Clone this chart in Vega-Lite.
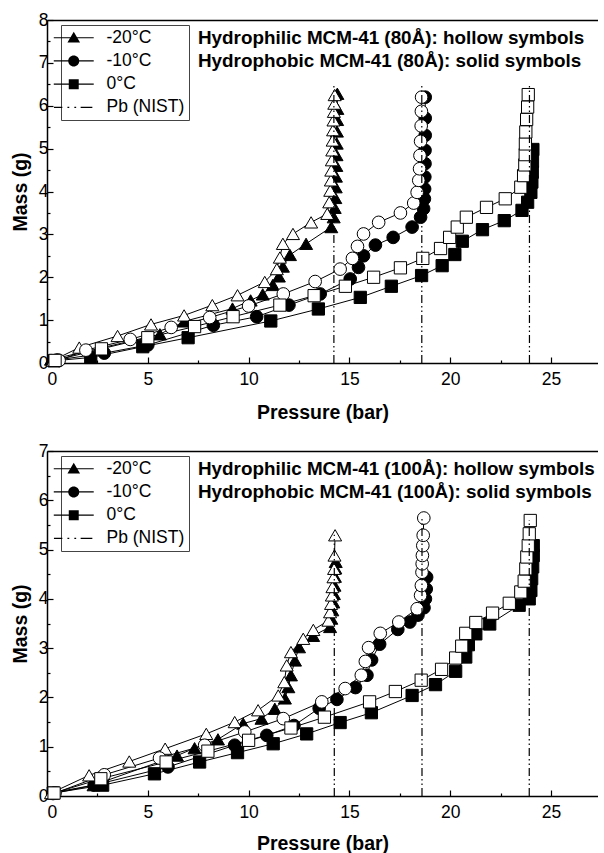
{
  "$schema": "https://vega.github.io/schema/vega-lite/v6.json",
  "padding": {"left": 10, "top": 11, "right": 0, "bottom": 0},
  "spacing": 20,
  "config": {
    "font": "Liberation Sans",
    "view": {"stroke": null},
    "axis": {
      "domainColor": "black", "domainWidth": 1.5, "tickColor": "black", "tickWidth": 1.2,
      "labelFont": "Liberation Sans", "labelFontSize": 17.5, "labelColor": "black",
      "titleFont": "Liberation Sans", "titleFontSize": 19.5, "titleFontWeight": "bold", "titleColor": "black",
      "grid": false
    },
    "title": {"font": "Liberation Sans", "fontSize": 18.85, "fontWeight": "bold", "color": "black", "lineHeight": 23}
  },
  "datasets": {
    "d80": [
      {"T":"-20°C","k":"F","p":0.2,"m":0.08},{"T":"-20°C","k":"F","p":5.6,"m":0.67},{"T":"-20°C","k":"F","p":6.8,"m":0.97},{"T":"-20°C","k":"F","p":9.2,"m":1.27},{"T":"-20°C","k":"F","p":10.1,"m":1.46},{"T":"-20°C","k":"F","p":10.7,"m":1.6},{"T":"-20°C","k":"F","p":11.2,"m":1.82},{"T":"-20°C","k":"F","p":11.5,"m":2.02},{"T":"-20°C","k":"F","p":11.7,"m":2.25},{"T":"-20°C","k":"F","p":12.05,"m":2.52},{"T":"-20°C","k":"F","p":12.85,"m":2.78},{"T":"-20°C","k":"F","p":14.1,"m":3.17},{"T":"-20°C","k":"F","p":14.22,"m":3.4},{"T":"-20°C","k":"F","p":14.27,"m":3.62},{"T":"-20°C","k":"F","p":14.3,"m":3.85},{"T":"-20°C","k":"F","p":14.32,"m":4.1},{"T":"-20°C","k":"F","p":14.33,"m":4.35},{"T":"-20°C","k":"F","p":14.35,"m":4.6},{"T":"-20°C","k":"F","p":14.36,"m":4.85},{"T":"-20°C","k":"F","p":14.37,"m":5.12},{"T":"-20°C","k":"F","p":14.38,"m":5.4},{"T":"-20°C","k":"F","p":14.39,"m":5.67},{"T":"-20°C","k":"F","p":14.4,"m":5.93},{"T":"-20°C","k":"F","p":14.4,"m":6.28},
      {"T":"-10°C","k":"F","p":0.5,"m":0.07},{"T":"-10°C","k":"F","p":2.84,"m":0.23},{"T":"-10°C","k":"F","p":5.0,"m":0.42},{"T":"-10°C","k":"F","p":8.25,"m":0.88},{"T":"-10°C","k":"F","p":10.4,"m":1.08},{"T":"-10°C","k":"F","p":12.0,"m":1.35},{"T":"-10°C","k":"F","p":13.55,"m":1.61},{"T":"-10°C","k":"F","p":15.04,"m":1.96},{"T":"-10°C","k":"F","p":15.45,"m":2.23},{"T":"-10°C","k":"F","p":15.7,"m":2.5},{"T":"-10°C","k":"F","p":16.29,"m":2.75},{"T":"-10°C","k":"F","p":17.17,"m":2.93},{"T":"-10°C","k":"F","p":18.11,"m":3.17},{"T":"-10°C","k":"F","p":18.53,"m":3.4},{"T":"-10°C","k":"F","p":18.68,"m":3.6},{"T":"-10°C","k":"F","p":18.72,"m":3.83},{"T":"-10°C","k":"F","p":18.73,"m":4.06},{"T":"-10°C","k":"F","p":18.74,"m":4.34},{"T":"-10°C","k":"F","p":18.75,"m":4.65},{"T":"-10°C","k":"F","p":18.75,"m":4.96},{"T":"-10°C","k":"F","p":18.76,"m":5.31},{"T":"-10°C","k":"F","p":18.76,"m":5.71},{"T":"-10°C","k":"F","p":18.76,"m":6.2},
      {"T":"0°C","k":"F","p":0.35,"m":0.05},{"T":"0°C","k":"F","p":2.17,"m":0.13},{"T":"0°C","k":"F","p":4.75,"m":0.38},{"T":"0°C","k":"F","p":7.0,"m":0.59},{"T":"0°C","k":"F","p":11.1,"m":0.98},{"T":"0°C","k":"F","p":13.46,"m":1.26},{"T":"0°C","k":"F","p":15.54,"m":1.53},{"T":"0°C","k":"F","p":17.08,"m":1.79},{"T":"0°C","k":"F","p":18.58,"m":2.04},{"T":"0°C","k":"F","p":19.6,"m":2.27},{"T":"0°C","k":"F","p":20.23,"m":2.53},{"T":"0°C","k":"F","p":20.6,"m":2.84},{"T":"0°C","k":"F","p":21.6,"m":3.11},{"T":"0°C","k":"F","p":22.68,"m":3.32},{"T":"0°C","k":"F","p":23.56,"m":3.56},{"T":"0°C","k":"F","p":23.84,"m":3.75},{"T":"0°C","k":"F","p":24.0,"m":3.98},{"T":"0°C","k":"F","p":24.05,"m":4.22},{"T":"0°C","k":"F","p":24.07,"m":4.45},{"T":"0°C","k":"F","p":24.08,"m":4.7},{"T":"0°C","k":"F","p":24.1,"m":4.98},
      {"T":"-20°C","k":"H","p":0.3,"m":0.06},{"T":"-20°C","k":"H","p":1.6,"m":0.36},{"T":"-20°C","k":"H","p":3.5,"m":0.63},{"T":"-20°C","k":"H","p":5.16,"m":0.9},{"T":"-20°C","k":"H","p":6.8,"m":1.11},{"T":"-20°C","k":"H","p":8.2,"m":1.35},{"T":"-20°C","k":"H","p":9.45,"m":1.58},{"T":"-20°C","k":"H","p":10.8,"m":1.89},{"T":"-20°C","k":"H","p":11.4,"m":2.19},{"T":"-20°C","k":"H","p":11.55,"m":2.46},{"T":"-20°C","k":"H","p":11.7,"m":2.78},{"T":"-20°C","k":"H","p":12.2,"m":3.01},{"T":"-20°C","k":"H","p":13.1,"m":3.28},{"T":"-20°C","k":"H","p":13.9,"m":3.48},{"T":"-20°C","k":"H","p":14.0,"m":3.75},{"T":"-20°C","k":"H","p":14.05,"m":4.02},{"T":"-20°C","k":"H","p":14.08,"m":4.26},{"T":"-20°C","k":"H","p":14.1,"m":4.49},{"T":"-20°C","k":"H","p":14.13,"m":4.73},{"T":"-20°C","k":"H","p":14.15,"m":4.96},{"T":"-20°C","k":"H","p":14.17,"m":5.19},{"T":"-20°C","k":"H","p":14.19,"m":5.43},{"T":"-20°C","k":"H","p":14.21,"m":5.66},{"T":"-20°C","k":"H","p":14.23,"m":5.86},{"T":"-20°C","k":"H","p":14.25,"m":6.05},{"T":"-20°C","k":"H","p":14.27,"m":6.25},
      {"T":"-10°C","k":"H","p":0.6,"m":0.06},{"T":"-10°C","k":"H","p":1.93,"m":0.3},{"T":"-10°C","k":"H","p":4.13,"m":0.55},{"T":"-10°C","k":"H","p":6.16,"m":0.83},{"T":"-10°C","k":"H","p":8.07,"m":1.06},{"T":"-10°C","k":"H","p":10.0,"m":1.33},{"T":"-10°C","k":"H","p":11.72,"m":1.61},{"T":"-10°C","k":"H","p":13.3,"m":1.9},{"T":"-10°C","k":"H","p":14.54,"m":2.19},{"T":"-10°C","k":"H","p":15.15,"m":2.44},{"T":"-10°C","k":"H","p":15.4,"m":2.72},{"T":"-10°C","k":"H","p":15.7,"m":3.01},{"T":"-10°C","k":"H","p":16.45,"m":3.28},{"T":"-10°C","k":"H","p":17.53,"m":3.5},{"T":"-10°C","k":"H","p":18.19,"m":3.73},{"T":"-10°C","k":"H","p":18.36,"m":3.98},{"T":"-10°C","k":"H","p":18.44,"m":4.26},{"T":"-10°C","k":"H","p":18.48,"m":4.53},{"T":"-10°C","k":"H","p":18.5,"m":4.84},{"T":"-10°C","k":"H","p":18.53,"m":5.17},{"T":"-10°C","k":"H","p":18.56,"m":5.53},{"T":"-10°C","k":"H","p":18.57,"m":5.87},{"T":"-10°C","k":"H","p":18.58,"m":6.2},
      {"T":"0°C","k":"H","p":0.4,"m":0.06},{"T":"0°C","k":"H","p":2.7,"m":0.33},{"T":"0°C","k":"H","p":5.0,"m":0.59},{"T":"0°C","k":"H","p":7.32,"m":0.85},{"T":"0°C","k":"H","p":9.23,"m":1.08},{"T":"0°C","k":"H","p":11.55,"m":1.35},{"T":"0°C","k":"H","p":13.25,"m":1.57},{"T":"0°C","k":"H","p":14.8,"m":1.79},{"T":"0°C","k":"H","p":16.2,"m":2.0},{"T":"0°C","k":"H","p":17.53,"m":2.22},{"T":"0°C","k":"H","p":18.64,"m":2.44},{"T":"0°C","k":"H","p":19.52,"m":2.67},{"T":"0°C","k":"H","p":19.97,"m":2.93},{"T":"0°C","k":"H","p":20.35,"m":3.17},{"T":"0°C","k":"H","p":20.8,"m":3.4},{"T":"0°C","k":"H","p":21.8,"m":3.63},{"T":"0°C","k":"H","p":22.73,"m":3.83},{"T":"0°C","k":"H","p":23.5,"m":4.1},{"T":"0°C","k":"H","p":23.64,"m":4.37},{"T":"0°C","k":"H","p":23.7,"m":4.62},{"T":"0°C","k":"H","p":23.72,"m":4.86},{"T":"0°C","k":"H","p":23.73,"m":5.11},{"T":"0°C","k":"H","p":23.75,"m":5.39},{"T":"0°C","k":"H","p":23.79,"m":5.68},{"T":"0°C","k":"H","p":23.84,"m":5.97},{"T":"0°C","k":"H","p":23.87,"m":6.26}
    ],
    "d100": [
      {"T":"-20°C","k":"F","p":0.3,"m":0.07},{"T":"-20°C","k":"F","p":2.31,"m":0.22},{"T":"-20°C","k":"F","p":6.45,"m":0.82},{"T":"-20°C","k":"F","p":7.32,"m":0.97},{"T":"-20°C","k":"F","p":8.48,"m":1.15},{"T":"-20°C","k":"F","p":9.73,"m":1.47},{"T":"-20°C","k":"F","p":10.64,"m":1.57},{"T":"-20°C","k":"F","p":11.3,"m":1.77},{"T":"-20°C","k":"F","p":11.8,"m":1.98},{"T":"-20°C","k":"F","p":11.97,"m":2.21},{"T":"-20°C","k":"F","p":12.1,"m":2.45},{"T":"-20°C","k":"F","p":12.3,"m":2.75},{"T":"-20°C","k":"F","p":12.5,"m":3.02},{"T":"-20°C","k":"F","p":13.2,"m":3.25},{"T":"-20°C","k":"F","p":14.04,"m":3.43},{"T":"-20°C","k":"F","p":14.1,"m":3.6},{"T":"-20°C","k":"F","p":14.15,"m":3.77},{"T":"-20°C","k":"F","p":14.2,"m":3.93},{"T":"-20°C","k":"F","p":14.23,"m":4.1},{"T":"-20°C","k":"F","p":14.26,"m":4.27},{"T":"-20°C","k":"F","p":14.28,"m":4.45},{"T":"-20°C","k":"F","p":14.3,"m":4.62},{"T":"-20°C","k":"F","p":14.32,"m":4.75},
      {"T":"-10°C","k":"F","p":0.3,"m":0.05},{"T":"-10°C","k":"F","p":2.34,"m":0.22},{"T":"-10°C","k":"F","p":6.0,"m":0.59},{"T":"-10°C","k":"F","p":9.31,"m":1.03},{"T":"-10°C","k":"F","p":10.9,"m":1.23},{"T":"-10°C","k":"F","p":12.25,"m":1.43},{"T":"-10°C","k":"F","p":13.5,"m":1.78},{"T":"-10°C","k":"F","p":14.38,"m":1.96},{"T":"-10°C","k":"F","p":15.3,"m":2.2},{"T":"-10°C","k":"F","p":15.87,"m":2.45},{"T":"-10°C","k":"F","p":16.1,"m":2.76},{"T":"-10°C","k":"F","p":16.5,"m":3.08},{"T":"-10°C","k":"F","p":17.4,"m":3.38},{"T":"-10°C","k":"F","p":18.0,"m":3.53},{"T":"-10°C","k":"F","p":18.4,"m":3.67},{"T":"-10°C","k":"F","p":18.7,"m":3.82},{"T":"-10°C","k":"F","p":18.77,"m":4.0},{"T":"-10°C","k":"F","p":18.81,"m":4.2},{"T":"-10°C","k":"F","p":18.83,"m":4.44},
      {"T":"0°C","k":"F","p":0.31,"m":0.06},{"T":"0°C","k":"F","p":2.76,"m":0.22},{"T":"0°C","k":"F","p":5.33,"m":0.45},{"T":"0°C","k":"F","p":7.57,"m":0.69},{"T":"0°C","k":"F","p":9.45,"m":0.88},{"T":"0°C","k":"F","p":11.22,"m":1.06},{"T":"0°C","k":"F","p":12.88,"m":1.26},{"T":"0°C","k":"F","p":14.54,"m":1.49},{"T":"0°C","k":"F","p":16.09,"m":1.69},{"T":"0°C","k":"F","p":18.11,"m":2.04},{"T":"0°C","k":"F","p":19.27,"m":2.26},{"T":"0°C","k":"F","p":20.27,"m":2.53},{"T":"0°C","k":"F","p":20.77,"m":2.82},{"T":"0°C","k":"F","p":20.9,"m":3.07},{"T":"0°C","k":"F","p":21.27,"m":3.29},{"T":"0°C","k":"F","p":21.96,"m":3.49},{"T":"0°C","k":"F","p":23.42,"m":3.87},{"T":"0°C","k":"F","p":23.92,"m":4.0},{"T":"0°C","k":"F","p":24.0,"m":4.17},{"T":"0°C","k":"F","p":24.04,"m":4.41},{"T":"0°C","k":"F","p":24.09,"m":4.65},{"T":"0°C","k":"F","p":24.12,"m":4.88},{"T":"0°C","k":"F","p":24.12,"m":5.08},
      {"T":"-20°C","k":"H","p":0.2,"m":0.06},{"T":"-20°C","k":"H","p":2.09,"m":0.42},{"T":"-20°C","k":"H","p":4.08,"m":0.7},{"T":"-20°C","k":"H","p":5.86,"m":0.96},{"T":"-20°C","k":"H","p":7.9,"m":1.26},{"T":"-20°C","k":"H","p":9.31,"m":1.5},{"T":"-20°C","k":"H","p":10.47,"m":1.74},{"T":"-20°C","k":"H","p":11.47,"m":2.04},{"T":"-20°C","k":"H","p":11.77,"m":2.31},{"T":"-20°C","k":"H","p":11.89,"m":2.65},{"T":"-20°C","k":"H","p":12.1,"m":2.92},{"T":"-20°C","k":"H","p":12.71,"m":3.19},{"T":"-20°C","k":"H","p":13.21,"m":3.37},{"T":"-20°C","k":"H","p":13.96,"m":3.56},{"T":"-20°C","k":"H","p":14.04,"m":3.73},{"T":"-20°C","k":"H","p":14.09,"m":3.9},{"T":"-20°C","k":"H","p":14.13,"m":4.07},{"T":"-20°C","k":"H","p":14.16,"m":4.24},{"T":"-20°C","k":"H","p":14.21,"m":4.44},{"T":"-20°C","k":"H","p":14.24,"m":4.61},{"T":"-20°C","k":"H","p":14.26,"m":4.88},{"T":"-20°C","k":"H","p":14.29,"m":5.29},
      {"T":"-10°C","k":"H","p":0.4,"m":0.06},{"T":"-10°C","k":"H","p":2.84,"m":0.43},{"T":"-10°C","k":"H","p":5.58,"m":0.77},{"T":"-10°C","k":"H","p":7.82,"m":1.03},{"T":"-10°C","k":"H","p":9.81,"m":1.3},{"T":"-10°C","k":"H","p":11.72,"m":1.57},{"T":"-10°C","k":"H","p":13.63,"m":1.91},{"T":"-10°C","k":"H","p":14.79,"m":2.18},{"T":"-10°C","k":"H","p":15.59,"m":2.45},{"T":"-10°C","k":"H","p":15.79,"m":2.73},{"T":"-10°C","k":"H","p":15.95,"m":3.01},{"T":"-10°C","k":"H","p":16.53,"m":3.3},{"T":"-10°C","k":"H","p":17.45,"m":3.53},{"T":"-10°C","k":"H","p":18.36,"m":3.8},{"T":"-10°C","k":"H","p":18.53,"m":4.07},{"T":"-10°C","k":"H","p":18.57,"m":4.27},{"T":"-10°C","k":"H","p":18.6,"m":4.54},{"T":"-10°C","k":"H","p":18.61,"m":4.71},{"T":"-10°C","k":"H","p":18.62,"m":4.88},{"T":"-10°C","k":"H","p":18.64,"m":5.08},{"T":"-10°C","k":"H","p":18.66,"m":5.29},{"T":"-10°C","k":"H","p":18.69,"m":5.64},
      {"T":"0°C","k":"H","p":0.35,"m":0.06},{"T":"0°C","k":"H","p":2.67,"m":0.35},{"T":"0°C","k":"H","p":5.91,"m":0.69},{"T":"0°C","k":"H","p":7.98,"m":0.91},{"T":"0°C","k":"H","p":10.0,"m":1.13},{"T":"0°C","k":"H","p":12.1,"m":1.38},{"T":"0°C","k":"H","p":13.76,"m":1.6},{"T":"0°C","k":"H","p":16.0,"m":1.91},{"T":"0°C","k":"H","p":17.28,"m":2.12},{"T":"0°C","k":"H","p":18.56,"m":2.35},{"T":"0°C","k":"H","p":19.57,"m":2.57},{"T":"0°C","k":"H","p":20.27,"m":2.8},{"T":"0°C","k":"H","p":20.57,"m":3.04},{"T":"0°C","k":"H","p":20.77,"m":3.3},{"T":"0°C","k":"H","p":21.27,"m":3.52},{"T":"0°C","k":"H","p":22.1,"m":3.71},{"T":"0°C","k":"H","p":22.93,"m":3.91},{"T":"0°C","k":"H","p":23.5,"m":4.14},{"T":"0°C","k":"H","p":23.67,"m":4.36},{"T":"0°C","k":"H","p":23.75,"m":4.61},{"T":"0°C","k":"H","p":23.8,"m":4.85},{"T":"0°C","k":"H","p":23.87,"m":5.08},{"T":"0°C","k":"H","p":23.92,"m":5.32},{"T":"0°C","k":"H","p":23.97,"m":5.59}
    ],
    "v80": [{"p":14.23,"m0":0,"m1":6.5},{"p":18.59,"m0":0,"m1":6.5},{"p":23.93,"m0":0,"m1":6.5}],
    "v100": [{"p":14.25,"m0":0,"m1":5.3},{"p":18.6,"m0":0,"m1":5.65},{"p":23.92,"m0":0,"m1":5.6}]
  },
  "resolve": {"scale": {"x": "independent", "y": "independent", "shape": "independent", "fill": "independent", "size": "independent"}, "legend": {"shape": "independent"}},
  "vconcat": [
    {
      "width": 551, "height": 343,
      "title": {"text": ["Hydrophilic MCM-41 (80Å): hollow symbols", "Hydrophobic MCM-41 (80Å): solid symbols"], "anchor": "start", "align": "left", "frame": "group", "dx": 151, "offset": -59.5},
      "resolve": {"scale": {"shape": "independent"}, "axis": {"x": "independent", "y": "independent"}},
      "layer": [
        {
          "data": {"name": "d80"},
          "mark": {"type": "line", "color": "black", "strokeWidth": 1},
          "encoding": {
            "x": {"field": "p", "type": "quantitative", "scale": {"domain": [0, 27.33], "nice": false},
              "axis": {"orient": "bottom", "title": "Pressure (bar)", "values": [0,5,10,15,20,25], "domain": true, "ticks": true, "tickSize": -6, "labelPadding": 13, "titlePadding": 16}},
            "y": {"field": "m", "type": "quantitative", "scale": {"domain": [0, 8], "nice": false},
              "axis": {"orient": "left", "title": "Mass (g)", "values": [0,1,2,3,4,5,6,7,8], "domain": true, "ticks": true, "tickSize": -6, "labelPadding": 5, "titlePadding": 8}},
            "detail": [{"field": "T"}, {"field": "k"}],
            "order": {"value": null}
          }
        },
        {
          "data": {"name": "d80"},
          "mark": {"type": "point", "filled": true, "stroke": "black", "strokeWidth": 1, "opacity": 1},
          "encoding": {
            "x": {"field": "p", "type": "quantitative", "axis": {"orient": "top", "ticks": false, "labels": false, "domain": true, "title": null}},
            "y": {"field": "m", "type": "quantitative", "axis": null},
            "shape": {"field": "T", "type": "nominal", "scale": {"domain": ["-20°C", "-10°C", "0°C"], "range": ["triangle-up", "circle", "square"]}, "legend": null},
            "size": {"field": "T", "type": "ordinal", "scale": {"domain": ["-20°C", "-10°C", "0°C"], "range": [170, 150, 115]}, "legend": null},
            "fill": {"field": "k", "type": "nominal", "scale": {"domain": ["F", "H"], "range": ["black", "white"]}, "legend": null}
          }
        },
        {
          "data": {"name": "v80"},
          "mark": {"type": "rule", "color": "black", "strokeWidth": 1.2, "strokeDash": [8, 3, 1.5, 3, 1.5, 3]},
          "encoding": {
            "x": {"field": "p", "type": "quantitative", "axis": {"orient": "bottom", "values": [2.5,7.5,12.5,17.5,22.5], "labels": false, "domain": false, "ticks": true, "tickSize": -3, "title": null}},
            "y": {"field": "m0", "type": "quantitative", "axis": {"orient": "left", "values": [0.5,1.5,2.5,3.5,4.5,5.5,6.5,7.5], "labels": false, "domain": false, "ticks": true, "tickSize": -3, "title": null}},
            "y2": {"field": "m1"}
          }
        },
        {
          "data": {"name": "d80"},
          "transform": [{"filter": "false"}],
          "mark": {"type": "point", "filled": true, "fill": "black", "opacity": 1},
          "encoding": {
            "shape": {"field": "T", "type": "nominal",
              "scale": {"domain": ["-20°C", "-10°C", "0°C", "Pb (NIST)"], "range": ["M-3.33,-0.1L3.33,-0.1L3.33,0.1L-3.33,0.1ZM0,-1L1.05,0.8L-1.05,0.8Z", "M-3.33,-0.1L3.33,-0.1L3.33,0.1L-3.33,0.1ZM-0.92,0A0.92,0.92,0,1,1,0.92,0A0.92,0.92,0,1,1,-0.92,0Z", "M-3.33,-0.1L3.33,-0.1L3.33,0.1L-3.33,0.1ZM-0.83,-0.83L0.83,-0.83L0.83,0.83L-0.83,0.83Z", "M-3.3,-0.1L-1.9,-0.1L-1.9,0.1L-3.3,0.1ZM-1.05,-0.1L-0.75,-0.1L-0.75,0.1L-1.05,0.1ZM0.1,-0.1L0.4,-0.1L0.4,0.1L0.1,0.1ZM1.15,-0.1L3.1,-0.1L3.1,0.1L1.15,0.1Z"]},
              "legend": {"title": null, "orient": "none", "legendX": 14, "legendY": 5, "strokeColor": "#444", "fillColor": "white", "padding": 4, "labelFont": "Liberation Sans", "labelFontSize": 17.5, "labelColor": "black", "symbolSize": 144, "symbolOffset": 0, "labelOffset": 24, "rowPadding": 4.2, "symbolFillColor": "black"}}
          }
        }
      ]
    },
    {
      "width": 551, "height": 345,
      "title": {"text": ["Hydrophilic MCM-41 (100Å): hollow symbols", "Hydrophobic MCM-41 (100Å): solid symbols"], "anchor": "start", "align": "left", "frame": "group", "dx": 151, "offset": -59.5},
      "resolve": {"scale": {"shape": "independent"}, "axis": {"x": "independent", "y": "independent"}},
      "layer": [
        {
          "data": {"name": "d100"},
          "mark": {"type": "line", "color": "black", "strokeWidth": 1},
          "encoding": {
            "x": {"field": "p", "type": "quantitative", "scale": {"domain": [0, 27.33], "nice": false},
              "axis": {"orient": "bottom", "title": "Pressure (bar)", "values": [0,5,10,15,20,25], "domain": true, "ticks": true, "tickSize": -6, "labelPadding": 13, "titlePadding": 14}},
            "y": {"field": "m", "type": "quantitative", "scale": {"domain": [0, 7], "nice": false},
              "axis": {"orient": "left", "title": "Mass (g)", "values": [0,1,2,3,4,5,6,7], "domain": true, "ticks": true, "tickSize": -6, "labelPadding": 5, "titlePadding": 8}},
            "detail": [{"field": "T"}, {"field": "k"}],
            "order": {"value": null}
          }
        },
        {
          "data": {"name": "d100"},
          "mark": {"type": "point", "filled": true, "stroke": "black", "strokeWidth": 1, "opacity": 1},
          "encoding": {
            "x": {"field": "p", "type": "quantitative", "axis": {"orient": "top", "ticks": false, "labels": false, "domain": true, "title": null}},
            "y": {"field": "m", "type": "quantitative", "axis": null},
            "shape": {"field": "T", "type": "nominal", "scale": {"domain": ["-20°C", "-10°C", "0°C"], "range": ["triangle-up", "circle", "square"]}, "legend": null},
            "size": {"field": "T", "type": "ordinal", "scale": {"domain": ["-20°C", "-10°C", "0°C"], "range": [170, 150, 115]}, "legend": null},
            "fill": {"field": "k", "type": "nominal", "scale": {"domain": ["F", "H"], "range": ["black", "white"]}, "legend": null}
          }
        },
        {
          "data": {"name": "v100"},
          "mark": {"type": "rule", "color": "black", "strokeWidth": 1.2, "strokeDash": [8, 3, 1.5, 3, 1.5, 3]},
          "encoding": {
            "x": {"field": "p", "type": "quantitative", "axis": {"orient": "bottom", "values": [2.5,7.5,12.5,17.5,22.5], "labels": false, "domain": false, "ticks": true, "tickSize": -3, "title": null}},
            "y": {"field": "m0", "type": "quantitative", "axis": {"orient": "left", "values": [0.5,1.5,2.5,3.5,4.5,5.5,6.5], "labels": false, "domain": false, "ticks": true, "tickSize": -3, "title": null}},
            "y2": {"field": "m1"}
          }
        },
        {
          "data": {"name": "d100"},
          "transform": [{"filter": "false"}],
          "mark": {"type": "point", "filled": true, "fill": "black", "opacity": 1},
          "encoding": {
            "shape": {"field": "T", "type": "nominal",
              "scale": {"domain": ["-20°C", "-10°C", "0°C", "Pb (NIST)"], "range": ["M-3.33,-0.1L3.33,-0.1L3.33,0.1L-3.33,0.1ZM0,-1L1.05,0.8L-1.05,0.8Z", "M-3.33,-0.1L3.33,-0.1L3.33,0.1L-3.33,0.1ZM-0.92,0A0.92,0.92,0,1,1,0.92,0A0.92,0.92,0,1,1,-0.92,0Z", "M-3.33,-0.1L3.33,-0.1L3.33,0.1L-3.33,0.1ZM-0.83,-0.83L0.83,-0.83L0.83,0.83L-0.83,0.83Z", "M-3.3,-0.1L-1.9,-0.1L-1.9,0.1L-3.3,0.1ZM-1.05,-0.1L-0.75,-0.1L-0.75,0.1L-1.05,0.1ZM0.1,-0.1L0.4,-0.1L0.4,0.1L0.1,0.1ZM1.15,-0.1L3.1,-0.1L3.1,0.1L1.15,0.1Z"]},
              "legend": {"title": null, "orient": "none", "legendX": 14, "legendY": 5, "strokeColor": "#444", "fillColor": "white", "padding": 4, "labelFont": "Liberation Sans", "labelFontSize": 17.5, "labelColor": "black", "symbolSize": 144, "symbolOffset": 0, "labelOffset": 24, "rowPadding": 4.2, "symbolFillColor": "black"}}
          }
        }
      ]
    }
  ]
}
